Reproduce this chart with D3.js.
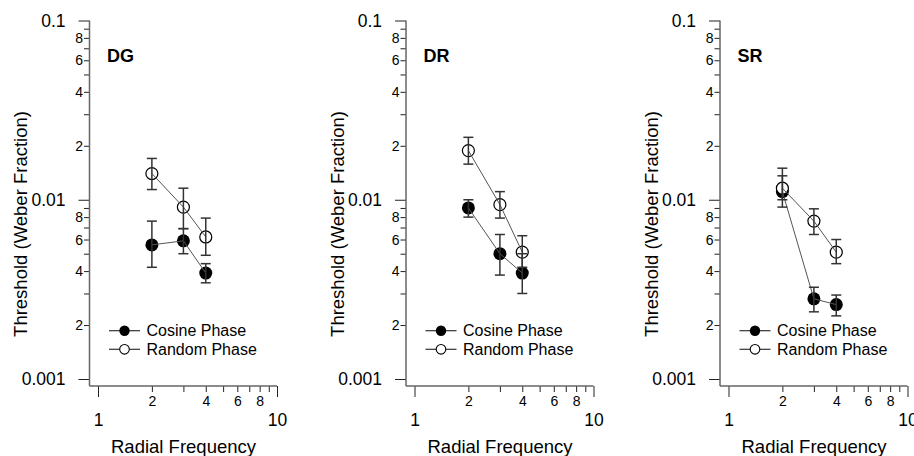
<!DOCTYPE html>
<html><head><meta charset="utf-8">
<script src="https://cdn.jsdelivr.net/npm/d3@7"></script>
<style>
body{margin:0;background:#fff}
svg{display:block;font-family:"Liberation Sans",Arial,Helvetica,sans-serif}
</style>
</head><body>
<svg id="c" width="914" height="456"></svg>
<script>
// ---- data ----
const panelNames = ["DG", "DR", "SR"];
const frequencies = [2, 3, 4];
const seriesNames = ["Cosine Phase", "Random Phase"];

const dgCosine   = [0.0056, 0.0059, 0.0039];
const dgCosineLo = [0.0042, 0.0050, 0.00344];
const dgCosineHi = [0.0076, 0.0069, 0.0044];
const dgRandom   = [0.0140, 0.0091, 0.0062];
const dgRandomLo = [0.0114, 0.0069, 0.0049];
const dgRandomHi = [0.0170, 0.0116, 0.0079];

const drCosine   = [0.0090, 0.0050, 0.0039];
const drCosineLo = [0.0080, 0.0038, 0.0030];
const drCosineHi = [0.0100, 0.0064, 0.0050];
const drRandom   = [0.0188, 0.0094, 0.0051];
const drRandomLo = [0.0158, 0.0079, 0.0042];
const drRandomHi = [0.0223, 0.0111, 0.0063];

const srCosine   = [0.0111, 0.0028, 0.0026];
const srCosineLo = [0.0091, 0.00237, 0.00225];
const srCosineHi = [0.0136, 0.00325, 0.00294];
const srRandom   = [0.0116, 0.0076, 0.0051];
const srRandomLo = [0.0100, 0.0064, 0.0044];
const srRandomHi = [0.0150, 0.0089, 0.0060];

const yMajorTicks = [0.001, 0.01, 0.1];
const yMajorLabels = ["0.001", "0.01", "0.1"];
const minorMultipliers = [2, 3, 4, 5, 6, 7, 8, 9];
const labeledMinor = [2, 4, 6, 8];
const xMajorTicks = [1, 10];
const xMajorLabels = ["1", "10"];
const xTitle = "Radial Frequency";
const yTitle = "Threshold (Weber Fraction)";

const panelData = [
  {cos: dgCosine, cosLo: dgCosineLo, cosHi: dgCosineHi, rnd: dgRandom, rndLo: dgRandomLo, rndHi: dgRandomHi},
  {cos: drCosine, cosLo: drCosineLo, cosHi: drCosineHi, rnd: drRandom, rndLo: drRandomLo, rndHi: drRandomHi},
  {cos: srCosine, cosLo: srCosineLo, cosHi: srCosineHi, rnd: srRandom, rndLo: srRandomLo, rndHi: srRandomHi}
];

// ---- layout ----
const svg = d3.select("#c");
const axisXs = [89.5, 406, 720];
const xAxisY = 386;
const y = d3.scaleLog().domain([0.001, 0.1]).range([379, 20.5]);

const yMinor = [];
[0.001, 0.01].forEach(d => minorMultipliers.forEach(k => yMinor.push(+(k * d).toPrecision(3))));
const xMinor = minorMultipliers.slice();

function mantissa(v) { return Math.round(v / Math.pow(10, Math.floor(Math.log10(v) + 1e-9))); }

panelNames.forEach((name, i) => {
  const ax = axisXs[i];
  const x = d3.scaleLog().domain([1, 10]).range([ax + 8.5, ax + 187.5]);
  const g = svg.append("g");
  const pd = panelData[i];

  // y axis ticks
  const yMaj = g.append("g").attr("transform", `translate(${ax},0)`)
    .call(d3.axisLeft(y).tickValues(yMajorTicks).tickSize(11).tickPadding(13)
      .tickFormat((d, j) => yMajorLabels[j]));
  yMaj.select(".domain").remove();
  yMaj.selectAll("text").attr("font-size", 17.5).attr("fill", "#000").attr("font-family", null);
  yMaj.selectAll("line").attr("stroke", "#222");

  const yMin = g.append("g").attr("transform", `translate(${ax},0)`)
    .call(d3.axisLeft(y).tickValues(yMinor).tickSize(5.5).tickPadding(1)
      .tickFormat(d => labeledMinor.includes(mantissa(d)) ? String(mantissa(d)) : ""));
  yMin.select(".domain").remove();
  yMin.selectAll("text").attr("font-size", 14).attr("fill", "#000").attr("font-family", null);
  yMin.selectAll("line").attr("stroke", "#222");

  // x axis ticks
  const xMaj = g.append("g").attr("transform", `translate(0,${xAxisY})`)
    .call(d3.axisBottom(x).tickValues(xMajorTicks).tickSize(11).tickPadding(16.5)
      .tickFormat((d, j) => xMajorLabels[j]));
  xMaj.select(".domain").remove();
  xMaj.selectAll("text").attr("font-size", 17.5).attr("fill", "#000").attr("font-family", null);
  xMaj.selectAll("line").attr("stroke", "#222");

  const xMin = g.append("g").attr("transform", `translate(0,${xAxisY})`)
    .call(d3.axisBottom(x).tickValues(xMinor).tickSize(6).tickPadding(4.5)
      .tickFormat(d => labeledMinor.includes(d) ? String(d) : ""));
  xMin.select(".domain").remove();
  xMin.selectAll("text").attr("font-size", 14).attr("fill", "#000").attr("font-family", null);
  xMin.selectAll("line").attr("stroke", "#222");

  // axis lines
  g.append("line").attr("x1", ax).attr("x2", ax).attr("y1", y(0.1)).attr("y2", xAxisY)
    .attr("stroke", "#666").attr("stroke-width", 1.5);
  g.append("line").attr("x1", ax).attr("x2", x(10)).attr("y1", xAxisY).attr("y2", xAxisY)
    .attr("stroke", "#666").attr("stroke-width", 1.5);

  // titles
  g.append("text").attr("x", ax + 94).attr("y", 453).attr("text-anchor", "middle")
    .attr("font-size", 18.5).text(xTitle);
  g.append("text").attr("transform", `translate(${ax - 62.5},224) rotate(-90)`)
    .attr("text-anchor", "middle").attr("font-size", 18.5).text(yTitle);
  g.append("text").attr("x", ax + 17.5).attr("y", 61.5).attr("font-size", 18)
    .attr("font-weight", "bold").text(name);

  const series = [
    {v: pd.cos, lo: pd.cosLo, hi: pd.cosHi, filled: true},
    {v: pd.rnd, lo: pd.rndLo, hi: pd.rndHi, filled: false}
  ];

  // markers
  series.forEach(s => {
    g.selectAll(null).data(frequencies).enter().append("circle")
      .attr("cx", d => x(d)).attr("cy", (d, j) => y(s.v[j]))
      .attr("r", s.filled ? 6.5 : 6)
      .attr("fill", s.filled ? "#000" : "#fff")
      .attr("stroke", "#000").attr("stroke-width", s.filled ? 0 : 1.2);
  });

  // connecting lines and error bars
  series.forEach(s => {
    const line = d3.line().x(d => x(d)).y((d, j) => y(s.v[j]));
    g.append("path").datum(frequencies).attr("d", line)
      .attr("fill", "none").attr("stroke", "#555").attr("stroke-width", 1);
    const eb = g.selectAll(null).data(frequencies).enter().append("g")
      .attr("stroke", "#333").attr("stroke-width", 1.5);
    eb.append("line").attr("x1", d => x(d)).attr("x2", d => x(d))
      .attr("y1", (d, j) => y(s.lo[j])).attr("y2", (d, j) => y(s.hi[j]));
    eb.append("line").attr("x1", d => x(d) - 5).attr("x2", d => x(d) + 5)
      .attr("y1", (d, j) => y(s.lo[j])).attr("y2", (d, j) => y(s.lo[j]));
    eb.append("line").attr("x1", d => x(d) - 5).attr("x2", d => x(d) + 5)
      .attr("y1", (d, j) => y(s.hi[j])).attr("y2", (d, j) => y(s.hi[j]));
  });

  // legend
  const legendY = [330.7, 349.3];
  seriesNames.forEach((nm, k) => {
    const ly = legendY[k];
    g.append("line").attr("x1", ax + 19.5).attr("x2", ax + 50.5).attr("y1", ly).attr("y2", ly)
      .attr("stroke", "#333").attr("stroke-width", 1.2);
    g.append("circle").attr("cx", ax + 35).attr("cy", ly).attr("r", k === 0 ? 5.2 : 4.8)
      .attr("fill", k === 0 ? "#000" : "#fff").attr("stroke", "#000").attr("stroke-width", k === 0 ? 0 : 1.1);
    g.append("text").attr("x", ax + 57).attr("y", ly).attr("dy", "0.35em")
      .attr("font-size", 16).text(nm);
  });
});
</script>
</body></html>
